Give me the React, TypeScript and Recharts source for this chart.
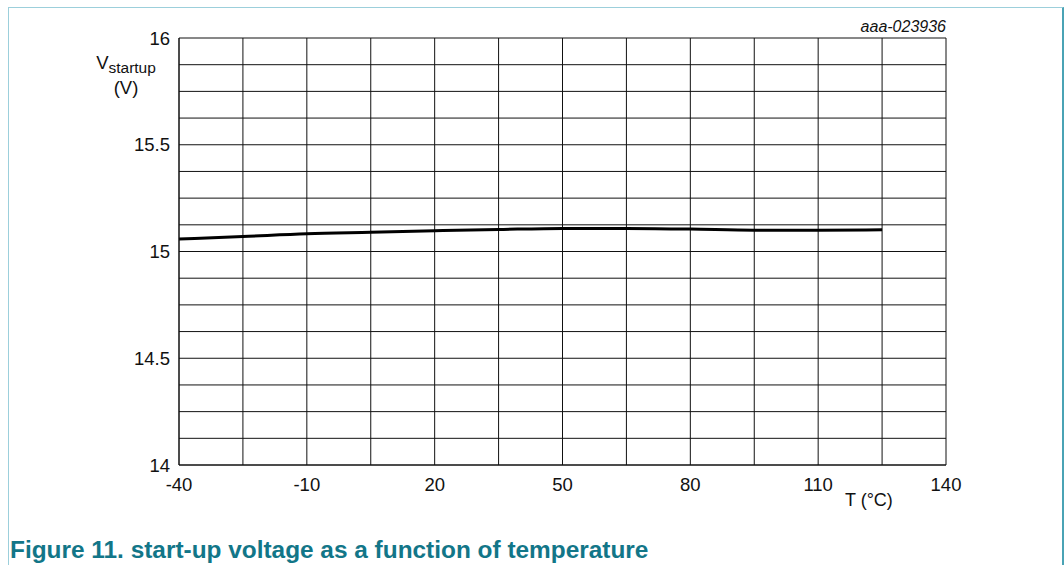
import React from 'react';
import { LineChart, Line, XAxis, YAxis, CartesianGrid } from 'recharts';

// temperature (°C) and start-up voltage (V)
const temps = [-40, -25, -10, 5, 20, 35, 50, 65, 80, 95, 110, 125];
const vStartup = [15.058, 15.07, 15.083, 15.09, 15.097, 15.103, 15.108, 15.108, 15.105, 15.1, 15.1, 15.102];

// grid every 15 °C / 0.125 V, labels only on the major steps
const xTicks = [-40, -25, -10, 5, 20, 35, 50, 65, 80, 95, 110, 125, 140];
const xLabels = [-40, -10, 20, 50, 80, 110, 140];
const yTicks = [14, 14.125, 14.25, 14.375, 14.5, 14.625, 14.75, 14.875, 15, 15.125, 15.25, 15.375, 15.5, 15.625, 15.75, 15.875, 16];
const yLabels = [14, 14.5, 15, 15.5, 16];

const data = temps.map((t, i) => ({ t, v: vStartup[i] }));

const font = '"Liberation Sans", Arial, sans-serif';
const teal = '#127688';

export default function App() {
  return (
    <div style={{ position: 'absolute', left: 0, top: 0, width: 1064, height: 565, background: '#fff', fontFamily: font, overflow: 'hidden' }}>
      {/* figure frame */}
      <div style={{ position: 'absolute', left: 8, top: 7, width: 1053, height: 600, borderLeft: '1px solid #9ccfdb', borderTop: '1px solid #9ccfdb', borderRight: '2px solid #4aa3b5' }} />

      <LineChart
        width={1064}
        height={565}
        data={data}
        margin={{ top: 38, right: 118, bottom: 70, left: 119 }}
        style={{ position: 'absolute', left: 0, top: 0 }}
      >
        <CartesianGrid stroke="#111" strokeWidth={1} />
        <XAxis
          dataKey="t"
          type="number"
          domain={[-40, 140]}
          ticks={xTicks}
          interval={0}
          height={30}
          tickSize={0}
          tickMargin={13}
          axisLine={{ stroke: '#111' }}
          tickLine={false}
          tick={{ fill: '#111', fontSize: 18.5, fontFamily: font }}
          tickFormatter={(v: number) => (xLabels.includes(v) ? String(v) : '')}
        />
        <YAxis
          type="number"
          domain={[14, 16]}
          ticks={yTicks}
          interval={0}
          width={60}
          tickSize={0}
          tickMargin={9}
          axisLine={{ stroke: '#111' }}
          tickLine={false}
          tick={{ fill: '#111', fontSize: 18.5, fontFamily: font }}
          tickFormatter={(v: number) => (yLabels.includes(v) ? String(v) : '')}
        />
        <Line
          type="monotone"
          dataKey="v"
          stroke="#000"
          strokeWidth={3}
          dot={false}
          isAnimationActive={false}
        />
      </LineChart>

      <div style={{ position: 'absolute', left: 846, top: 18, width: 100, textAlign: 'right', fontSize: 16, fontStyle: 'italic', color: '#111' }}>
        aaa-023936
      </div>

      <div style={{ position: 'absolute', left: 78, top: 53, width: 96, textAlign: 'center', fontSize: 18.5, color: '#111', lineHeight: '20px' }}>
        <div>
          V<sub style={{ fontSize: 15.5, verticalAlign: '-4px' }}>startup</sub>
        </div>
        <div>(V)</div>
      </div>

      <div style={{ position: 'absolute', left: 845, top: 490, fontSize: 18, color: '#111' }}>T (°C)</div>

      <div style={{ position: 'absolute', left: 10, top: 536, fontSize: 24.4, fontWeight: 'bold', color: teal, whiteSpace: 'nowrap' }}>
        Figure 11. start-up voltage as a function of temperature
      </div>
    </div>
  );
}
